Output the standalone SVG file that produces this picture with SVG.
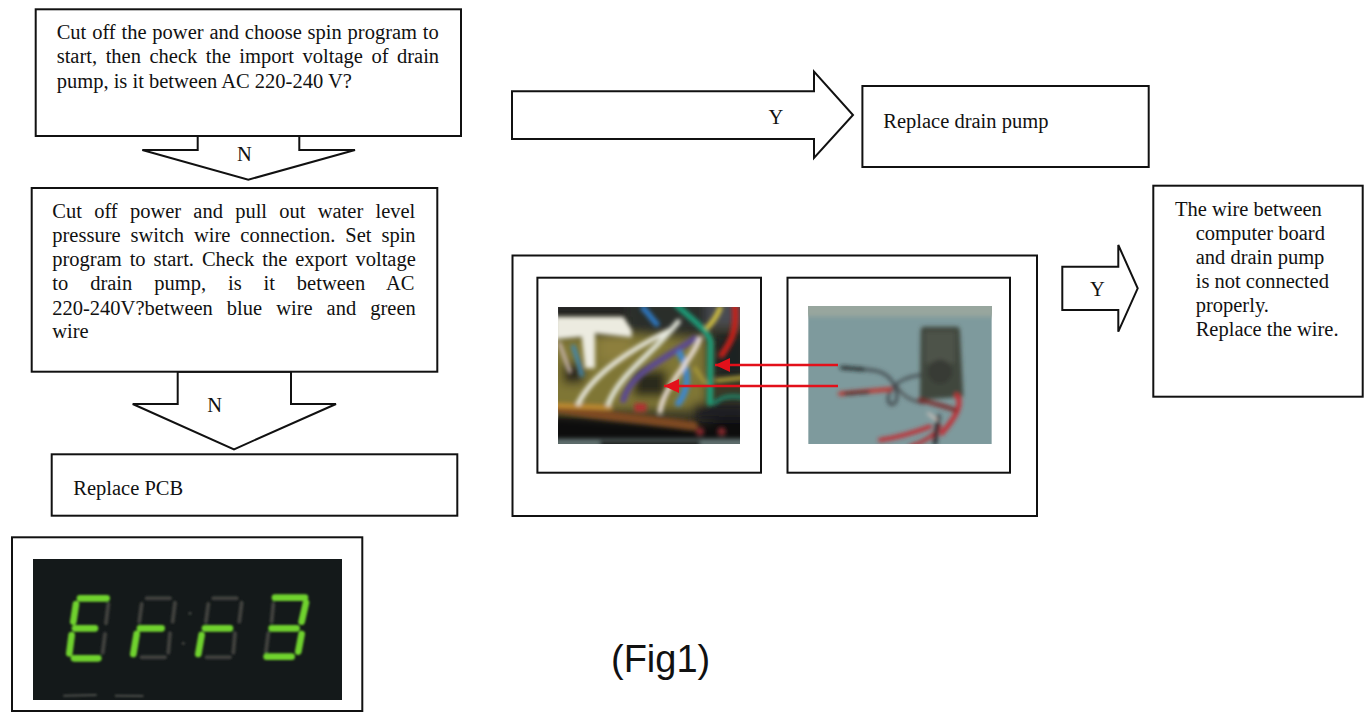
<svg xmlns="http://www.w3.org/2000/svg" width="1371" height="720" viewBox="0 0 1371 720">
<style>
.b{fill:#fff;stroke:#111;stroke-width:2}
.t{font-family:"Liberation Serif","Times New Roman",serif;font-size:20.5px;fill:#111}
.c{text-anchor:middle}
.w{fill:none;stroke-linecap:round;stroke-linejoin:round}
.g{fill:none;stroke:#6fd22e;stroke-width:20;stroke-linecap:round}
.o{fill:none;stroke:#3f413c;stroke-width:12;stroke-linecap:round}
.ra{fill:none;stroke:#e3101a;stroke-width:2.4}
</style>
<defs>
<filter id="blur1" x="-5%" y="-5%" width="110%" height="110%"><feGaussianBlur stdDeviation="6"/></filter>
<filter id="blur2" x="-5%" y="-5%" width="110%" height="110%"><feGaussianBlur stdDeviation="3.5"/></filter>
<filter id="blur3" x="-5%" y="-5%" width="110%" height="110%"><feGaussianBlur stdDeviation="14"/></filter>
<clipPath id="cp1"><rect x="558" y="307" width="182" height="137"/></clipPath>
<clipPath id="cp2"><rect x="808" y="306" width="184" height="138"/></clipPath>
<clipPath id="cp3"><rect x="33" y="559" width="309" height="141"/></clipPath>
<marker id="ah" markerUnits="userSpaceOnUse" markerWidth="16" markerHeight="16" refX="15" refY="8" orient="auto"><polygon points="0,1 15,8 0,15" fill="#e3101a"/></marker>
</defs>

<g id="connectors">
<polygon class="b" points="197.700,136 197.700,150 142.300,150 248.300,179.700 355,150 299.300,150 299.300,136"/>
<polygon class="b" points="177.700,371.700 177.700,404 132.700,404 234,449.300 336,404 291,404 291,371.700"/>
<polygon class="b" points="512,91.300 814,91.300 814,71.700 853,115 814,158 814,139 512,139"/>
<polygon class="b" points="1062.300,266.700 1118.300,266.700 1118.300,245 1137.700,288.300 1118.300,331.700 1118.300,310 1062.300,310"/>
<text class="t c" x="244.300" y="161">N</text>
<text class="t c" x="214.700" y="412">N</text>
<text class="t c" x="776" y="124">Y</text>
<text class="t c" x="1097.300" y="295.700">Y</text>
</g>

<g id="node-check-import">
<rect class="b" x="35.700" y="9.300" width="425.300" height="126.700"/>
<text class="t" x="56.700" y="39" word-spacing="0.7">Cut off the power and choose spin program to</text>
<text class="t" x="56.700" y="63.300" word-spacing="3.4">start, then check the import voltage of drain</text>
<text class="t" x="56.700" y="87.700">pump, is it between AC 220-240 V?</text>
</g>

<g id="node-check-export">
<rect class="b" x="31.700" y="188" width="405.600" height="183.700"/>
<text class="t" x="52.300" y="218.300" word-spacing="7.1">Cut off power and pull out water level</text>
<text class="t" x="52.300" y="242.300" word-spacing="4.8">pressure switch wire connection. Set spin</text>
<text class="t" x="52.300" y="266" word-spacing="2.8">program to start. Check the export voltage</text>
<text class="t" x="52.300" y="290" word-spacing="16.8">to drain pump, is it between AC</text>
<text class="t" x="52.300" y="314.500" word-spacing="8.9">220-240V?between blue wire and green</text>
<text class="t" x="52.300" y="338.300">wire</text>
</g>

<g id="node-replace-pcb">
<rect class="b" x="51.700" y="454.300" width="405.600" height="61.400"/>
<text class="t" x="73.300" y="495">Replace PCB</text>
</g>

<g id="node-replace-pump">
<rect class="b" x="862.400" y="86" width="286.300" height="81"/>
<text class="t" x="883.300" y="128">Replace drain pump</text>
</g>

<g id="node-wire">
<rect class="b" x="1153.300" y="185.700" width="209.400" height="211"/>
<text class="t" x="1175" y="215.700">The wire between</text>
<text class="t" x="1195.700" y="240">computer board</text>
<text class="t" x="1195.700" y="264">and drain pump</text>
<text class="t" x="1195.700" y="288.300">is not connected</text>
<text class="t" x="1195.700" y="312">properly.</text>
<text class="t" x="1195.700" y="336">Replace the wire.</text>
</g>

<g id="node-photos">
<rect class="b" x="512.500" y="255.500" width="524.500" height="260.500"/>
<rect class="b" x="537.400" y="277.700" width="223.600" height="195"/>
<rect class="b" x="787.500" y="277.700" width="222.500" height="195"/>

<g id="photo-board" clip-path="url(#cp1)">
<g transform="translate(550,300) scale(0.3333)">
<rect x="25" y="22" width="545" height="410" fill="#3a3826"/>
<g filter="url(#blur3)">
<polygon points="0,110 240,100 470,120 470,330 0,330" fill="#7f7636"/>
<rect x="0" y="0" width="230" height="50" fill="#232321"/>
<rect x="230" y="0" width="240" height="100" fill="#2b2d2c"/>
<rect x="490" y="100" width="100" height="130" fill="#1e2320"/>
<rect x="470" y="0" width="120" height="80" fill="#4a4c52"/>
<rect x="250" y="210" width="100" height="80" fill="#2b2a1c"/>
<rect x="40" y="190" width="60" height="60" fill="#26241c"/>
<rect x="150" y="110" width="90" height="70" fill="#8d7f3c"/>
<polygon points="0,345 430,375 600,345 600,450 0,450" fill="#0e0e0c"/>
<rect x="430" y="310" width="160" height="50" fill="#1c1c20"/>
</g>
<g filter="url(#blur1)">
<polygon points="15,50 220,50 245,90 245,112 135,100 135,205 105,205 95,110 15,118" fill="#ecebe0"/>
<path class="w" d="M28,130 C40,160 50,190 60,215" stroke="#c9b6ae" stroke-width="11"/>
<path class="w" d="M70,140 C80,170 90,200 95,225" stroke="#3f86ad" stroke-width="13"/>
<path class="w" d="M15,322 C120,345 250,352 430,378" stroke="#7e4a22" stroke-width="28"/>
<path class="w" d="M15,316 L180,322" stroke="#c08c30" stroke-width="16"/>
<path class="w" d="M220,300 C240,220 340,180 435,115" stroke="#5b4a92" stroke-width="19"/>
<path class="w" d="M85,310 C130,220 240,150 360,90" stroke="#eeeee6" stroke-width="14"/>
<path class="w" d="M175,312 C210,220 300,170 385,65" stroke="#e4e7dc" stroke-width="15"/>
<path class="w" d="M280,25 C295,40 305,55 320,72" stroke="#2e78c2" stroke-width="17"/>
<path class="w" d="M385,310 C415,270 420,220 390,160" stroke="#3d87cc" stroke-width="19"/>
<path class="w" d="M330,335 C340,260 420,190 450,115" stroke="#eee2dc" stroke-width="14"/>
<path class="w" d="M510,25 C500,50 485,70 470,85" stroke="#d6c440" stroke-width="15"/>
<path class="w" d="M555,15 C562,100 540,130 515,165" stroke="#c8221a" stroke-width="18"/>
<path class="w" d="M380,15 C420,55 470,85 482,125 L480,310" stroke="#1fa07c" stroke-width="17"/>
<path class="w" d="M500,242 L580,233" stroke="#b8a83a" stroke-width="11"/>
<path class="w" d="M495,310 C510,290 540,285 580,292" stroke="#1d8a70" stroke-width="11"/>
<path class="w" d="M435,205 L465,250" stroke="#a89a3a" stroke-width="11"/>
<rect x="253" y="310" width="36" height="25" fill="#b03230"/>
<circle cx="450" cy="395" r="13" fill="#7c262a"/>
<circle cx="515" cy="395" r="13" fill="#7c262a"/>
<rect x="15" y="416" width="570" height="26" fill="#5f6f6e"/>
<rect x="150" y="422" width="300" height="20" fill="#1a1c1c"/>
</g>
</g>
</g>

<g id="photo-meter" clip-path="url(#cp2)">
<g transform="translate(800,300) scale(0.3333)">
<rect x="25" y="18" width="550" height="414" fill="#7e9a9d"/>
<g filter="url(#blur1)">
<rect x="10" y="5" width="580" height="45" fill="#98a69e"/>
<path d="M372,80 L470,80 Q480,80 480,95 L490,290 L360,300 L362,95 Q362,80 372,80Z" fill="#41463c"/>
<rect x="375" y="95" width="90" height="95" fill="#4e5248"/>
<circle cx="420" cy="215" r="36" fill="#373a34"/>
<path class="w" d="M125,203 L190,208 C230,210 260,215 280,250 C300,290 290,320 270,312 C250,290 280,235 360,225" stroke="#3c4346" stroke-width="8"/>
<path class="w" d="M125,203 L190,208" stroke="#1a2020" stroke-width="10"/>
<path class="w" d="M290,260 C310,290 330,300 370,310" stroke="#454446" stroke-width="7"/>
<path class="w" d="M120,281 L270,268" stroke="#c3302c" stroke-width="12"/>
<path class="w" d="M135,281 L205,276" stroke="#231c1c" stroke-width="8"/>
<path class="w" d="M470,285 C490,310 470,350 425,400" stroke="#c42a30" stroke-width="14"/>
<path class="w" d="M360,300 C400,310 440,320 465,330" stroke="#7c2a2a" stroke-width="13"/>
<path class="w" d="M240,420 C300,412 350,395 390,380" stroke="#c4282e" stroke-width="12"/>
<path class="w" d="M330,440 C370,425 400,410 420,380" stroke="#b62a2e" stroke-width="11"/>
<path class="w" d="M415,350 L405,430" stroke="#26282a" stroke-width="13"/>
<path class="w" d="M385,340 L410,360" stroke="#d8c8c0" stroke-width="7"/>
</g>
</g>
</g>

<line class="ra" x1="838" y1="365" x2="715" y2="365" marker-end="url(#ah)"/>
<line class="ra" x1="838" y1="386" x2="664" y2="386" marker-end="url(#ah)"/>
</g>

<g id="node-display">
<rect class="b" x="12" y="537.300" width="350.300" height="173.700"/>
<g clip-path="url(#cp3)">
<rect x="33" y="559" width="309" height="141" fill="#14191a"/>
<g transform="translate(0,530) scale(0.3333)">
<g filter="url(#blur2)">
<path class="o" d="M325,222 L318,280 M315,312 L308,368"/>
<path class="o" d="M440,205 L510,205 M425,222 L418,275 M525,218 L518,275 M510,310 L505,368 M425,382 L495,382"/>
<path class="o" d="M640,205 L710,205 M625,222 L618,275 M725,218 L718,275 M705,310 L700,368 M620,382 L690,382"/>
<path class="o" d="M820,222 L815,275 M805,310 L798,365"/>
<path class="g" d="M240,205 L320,205 M228,222 L220,275 M225,295 L285,295 M215,315 L208,370 M222,385 L295,385"/>
<path class="g" d="M420,295 L485,295 M410,312 L400,372"/>
<path class="g" d="M615,295 L690,295 M605,315 L595,372"/>
<path class="g" d="M825,203 L915,203 M918,218 L905,275 M815,295 L890,295 M905,312 L895,365 M800,380 L875,380"/>
<circle cx="570" cy="250" r="5" fill="#3f413c"/>
<circle cx="550" cy="340" r="5" fill="#3f413c"/>
<path d="M190,497 L290,495 M345,497 L430,498" stroke="#4c4e4a" stroke-width="6" fill="none"/>
</g>
</g>
</g>
</g>

<text x="611" y="671.700" font-family="'Liberation Sans',Arial,sans-serif" font-size="38" fill="#111">(Fig1)</text>
</svg>
